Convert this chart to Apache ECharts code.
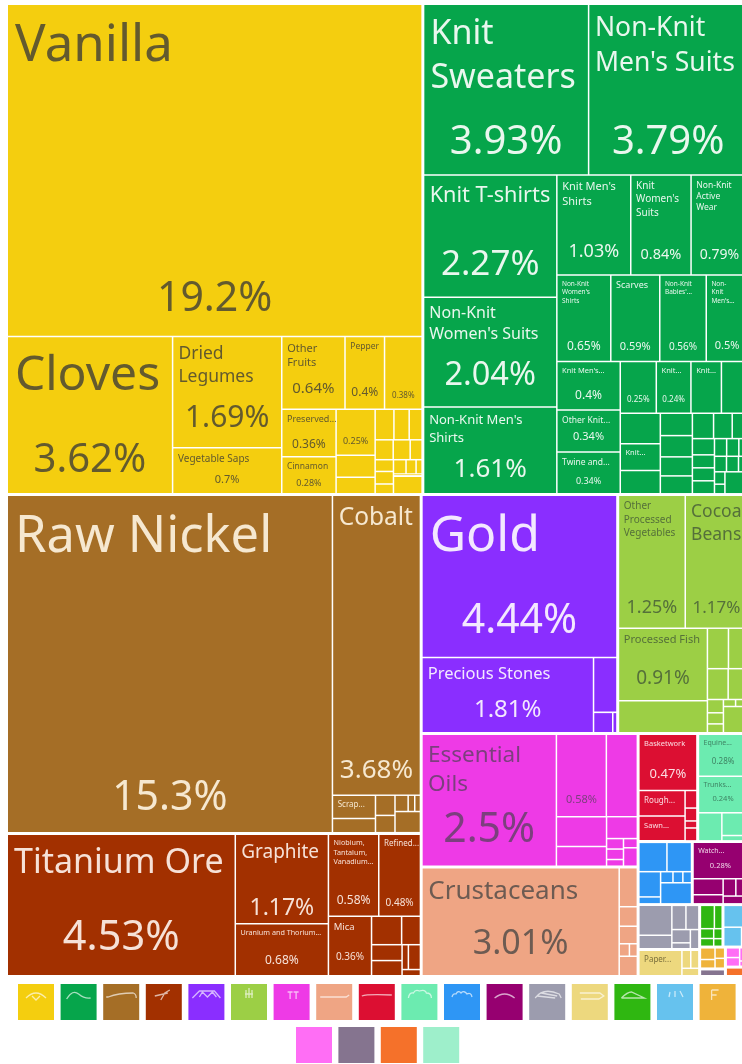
<!DOCTYPE html>
<html><head><meta charset="utf-8">
<style>html,body{margin:0;padding:0;background:#fff}#c{width:742px;height:1064px}</style>
<script src="https://cdn.jsdelivr.net/npm/echarts@6/dist/echarts.min.js"></script>
</head><body><div id="c"></div>
<script>
// ---- data: share of exports (%) ----
const yellowNames=['Vanilla','Cloves','Dried\nLegumes','Vegetable Saps','Other\nFruits','Pepper','','Preserved...','Cinnamon',''];
const yellowPct=['19.2%','3.62%','1.69%','0.7%','0.64%','0.4%','0.38%','0.36%','0.28%','0.25%'];
const yellowValues=[19.2,3.62,1.69,.7,.64,.4,.38,.36,.28,.25,.12,.09,.08,.065,.055,.05,.047,.033,.03,.032,.025,.025,.02,.012,.009,.07];
const greenNames=['Knit\nSweaters',"Non-Knit\nMen's Suits",'Knit T-shirts',"Non-Knit\nWomen's Suits","Non-Knit Men's\nShirts","Knit Men's\nShirts","Knit\nWomen's\nSuits",'Non-Knit\nActive\nWear',"Non-Knit\nWomen's\nShirts",'Scarves',"Non-Knit\nBabies'...","Non-\nKnit\nMen's...","Knit Men's...",'Other Knit...','Twine and...','','Knit...','Knit...','','','Knit...'];
const greenPct=['3.93%','3.79%','2.27%','2.04%','1.61%','1.03%','0.84%','0.79%','0.65%','0.59%','0.56%','0.5%','0.4%','0.34%','0.34%','0.25%','0.24%'];
const greenValues=[3.93,3.79,2.27,2.04,1.61,1.03,.84,.79,.65,.59,.56,.5,.43,.37,.37,.26,.25,.22,.19,.17,.15,.13,.1,.095,.085,.08,.075,.066,.055,.05,.04,.04,.04,.03,.03,.022,.026,.026,.02,.018,.014,.07];
const brownNames=['Raw Nickel','Cobalt','Scrap...'];
const brownPct=['15.3%','3.68%'];
const brownValues=[15.3,3.68,.14,.085,.055,.047,.03,.015,.013,.075];
const rustNames=['Titanium Ore','Graphite','Uranium and Thorium...','Niobium,\nTantalum,\nVanadium...','Refined...','Mica'];
const rustPct=['4.53%','1.17%','0.68%','0.58%','0.48%','0.36%'];
const rustValues=[4.53,1.17,.68,.58,.48,.36,.12,.075,.068,.065,.022,.042,.016];
const violetNames=['Gold','Precious Stones'];
const violetPct=['4.44%','1.81%'];
const violetValues=[4.44,1.81,.18,.055,.012];
const limeNames=['Other\nProcessed\nVegetables','Cocoa\nBeans','Processed Fish'];
const limePct=['1.25%','1.17%','0.91%'];
const limeValues=[1.25,1.17,.91,.4,.12,.11,.09,.085,.03,.025,.02,.012,.012,.09];
const magentaNames=['Essential\nOils',''];
const magentaPct=['2.5%','0.58%'];
const magentaValues=[2.5,.58,.36,.21,.14,.095,.025,.025,.016,.018,.036];
const salmonNames=['Crustaceans'];
const salmonPct=['3.01%'];
const salmonValues=[3.01,.1,.05,.045,.018,.014,.05];
const crimsonNames=['Basketwork','Rough...','Sawn...'];
const crimsonPct=['0.47%'];
const crimsonValues=[.47,.17,.165,.03,.022,.012,.022];
const mintNames=['Equine...','Trunks...'];
const mintPct=['0.28%','0.24%'];
const mintValues=[.3,.26,.095,.085,.02];
const blueValues=[.12,.105,.08,.022,.02,.016,.014,.095];
const plumNames=['Watch...'];
const plumPct=['0.28%'];
const plumValues=[.29,.07,.04,.032,.03,.028];
const grayValues=[.145,.065,.05,.046,.036,.016,.024];
const paleNames=['Paper...'];
const paleValues=[.165,.024,.022,.019];
const leafValues=[.05,.028,.02,.016,.013,.01];
const skyValues=[.08,.052,.018];
const amberValues=[.027,.02,.016,.015];
const duskValues=[.027];
const pinkValues=[.021,.019,.017,.007];
const orangeValues=[.03];
const legendColors=['#F4CE0F','#06A54B','#A56E26','#A23000','#8A2EFF','#9CCF45','#EE3AE6','#EFA584','#DC0F32','#6CEBB0','#2E96F5','#960070','#9C9CAE','#EDD87E','#2FB711','#66C2EE','#EFB33A','#FF6EF5','#85748F','#F5712A','#9EEFCB'];

// ---- styles: [name font, percent font, percent y as % of the cell] ----
const styles={
 yellow:[[51,41,89],[48,40,79],[17.5,30,74],[10,11,71],[11,15,72],[8.5,12,78],[0,8,82],[9,12,75],[8.5,9,72],[0,9,70]],
 green:[[34,40,81],[26.5,40,81],[21.7,35,74],[16,32.5,72],[13,26,73],[11,18,77],[10,14.5,80],[8.5,14,80],[6.5,12,83],[9,11,84],[6.5,10,84],[6.5,11,83],[7.5,12,70],[8.5,11,65],[8.5,9,72],[0,8,75],[7.5,8,75],[7.5],[0],[0],[7.5]],
 brown:[[50.6,41,90],[24.5,26,92],[8]],
 rust:[[34,41.5,74],[19,23,84],[7.2,12,72],[7.2,12,81],[8,10,85],[9.5,10,70]],
 violet:[[50,41,78],[16.5,24,70]],
 lime:[[10,18,85],[17.5,17,85],[11,19,70]],
 magenta:[[22.5,41,73],[0,11,80]],
 salmon:[[26,34,71]],
 crimson:[[7.5,13,72],[8],[7.5]],
 mint:[[7,8,67],[7,7.5,62]],
 plum:[[7,7.5,65]],
 pale:[[8]]
};
const textColors={yellow:'#635a2e',green:'#e9f7ee',brown:'#f6e8d0',rust:'#f6e1d7',violet:'#f3e8ff',lime:'#55703a',magenta:'#7c3f7e',salmon:'#6d5b52',crimson:'#fbdde2',mint:'#3f8464',plum:'#f0d6e8',pale:'#7a6f3c'};
const groups=[
 ['yellow',yellowValues,yellowNames,yellowPct,0],['green',greenValues,greenNames,greenPct,1],
 ['brown',brownValues,brownNames,brownPct,2],['rust',rustValues,rustNames,rustPct,3],
 ['violet',violetValues,violetNames,violetPct,4],['lime',limeValues,limeNames,limePct,5],
 ['magenta',magentaValues,magentaNames,magentaPct,6],['salmon',salmonValues,salmonNames,salmonPct,7],
 ['crimson',crimsonValues,crimsonNames,crimsonPct,8],['mint',mintValues,mintNames,mintPct,9],
 ['blue',blueValues,[],[],10],['plum',plumValues,plumNames,plumPct,11],
 ['gray',grayValues,[],[],12],['pale',paleValues,paleNames,[],13],
 ['leaf',leafValues,[],[],14],['sky',skyValues,[],[],15],['amber',amberValues,[],[],16],
 ['dusk',duskValues,[],[],18],['pink',pinkValues,[],[],17],['orange',orangeValues,[],[],19]
];
const FONT='"Noto Sans"';
function tree(kind){
 return groups.map(([key,vals,names,pcts,ci])=>({
  name:key,
  children:vals.map((v,i)=>{
   const st=(styles[key]||[])[i]||[0,0,0];
   const col=textColors[key]||'#fff';
   const node={value:v,itemStyle:{color:kind==='name'?legendColors[ci]:'rgba(0,0,0,0)'}};
   if(kind==='name'){
    const t=names[i]||'';
    node.name=t||' ';
    node.label=t?{show:true,formatter:()=>t,position:'insideTopLeft',fontFamily:FONT,fontSize:st[0],color:col,
      lineHeight:st[0]*1.32,padding:[3+st[0]*.1,0,0,4+st[0]*.06],overflow:'none'}:{show:false};
   }else{
    const t=pcts[i]||'';
    node.name=t||' ';
    node.label=t?{show:true,formatter:()=>t,position:['50%',st[2]+'%'],align:'center',verticalAlign:'middle',
      fontFamily:FONT,fontSize:st[1],color:col,overflow:'none'}:{show:false};
   }
   return node;
  })
 }));
}
function series(kind){
 const bc=kind==='name'?'#fff':'rgba(0,0,0,0)';
 return {type:'treemap',left:8,top:5,width:739,height:970,roam:false,nodeClick:false,silent:true,
  breadcrumb:{show:false},sort:false,visibleMin:0,childrenVisibleMin:0,
  animation:false,
  label:{show:false},upperLabel:{show:false},emphasis:{disabled:true},
  itemStyle:{borderWidth:0,borderColor:bc,gapWidth:0},
  levels:[
   {itemStyle:{gapWidth:3,borderWidth:0,borderColor:bc}},
   {itemStyle:{gapWidth:1.5,borderWidth:0,borderColor:bc}},
   {itemStyle:{gapWidth:0,borderWidth:0,borderColor:bc}}
  ],
  data:tree(kind)};
}
// icon strokes drawn on a 36-unit swatch
const iconPaths=['M8 14Q18 4 28 14M14 12L18 16L22 12','M6 15Q12 5 18 10T30 14','M3 13H5Q15 9 30 9Q33 10 33 14','M9 12L22 9M15 16L19 9L24 6','M4 14L11 7H26L32 14M11 13L14 8L19 13L24 8L28 13','M15 14V6M18 14V4M21 14V6M14 10H22','M14 8H19M16.5 8V15M20 8H25M22.5 8V15','M4 13H30L33 11','M3 12Q8 10 33 11','M7 14Q8 8 12 9Q14 5 18 7Q24 5 25 9Q30 9 30 14','M8 13Q9 9 12 10Q14 6 17 9Q20 6 23 10Q27 8 28 13','M8 14Q18 6 28 14','M6 14Q14 3 30 10L32 14M8 12L26 14M12 9L28 12','M8 9H28L32 12L27 15H9','M7 14Q13 8 17 8L30 14H7','M13 8L12 13M18 7V13M23 7L26 13','M12 6V16M12 6H19M12 11H17'];
const graphics=[];
legendColors.forEach((c,i)=>{
 const firstRow=i<17;
 const x=firstRow?18+i*42.6:296+(i-17)*42.4;
 const y=firstRow?984:1027;
 graphics.push({type:'rect',shape:{x:x,y:y,width:36,height:36},style:{fill:c}});
 if(iconPaths[i]){
  const shapeName='swatchIcon'+i;
  echarts.graphic.registerShape(shapeName,echarts.graphic.extendPath(iconPaths[i],{}));
  graphics.push({type:shapeName,x:x,y:y,style:{fill:'none',stroke:'rgba(255,255,255,.65)',lineWidth:1.3}});
 }
});
const chart=echarts.init(document.getElementById('c'),null,{renderer:'canvas'});
chart.setOption({backgroundColor:'#fff',animation:false,series:[series('name'),series('pct')],graphic:graphics});
</script></body></html>
